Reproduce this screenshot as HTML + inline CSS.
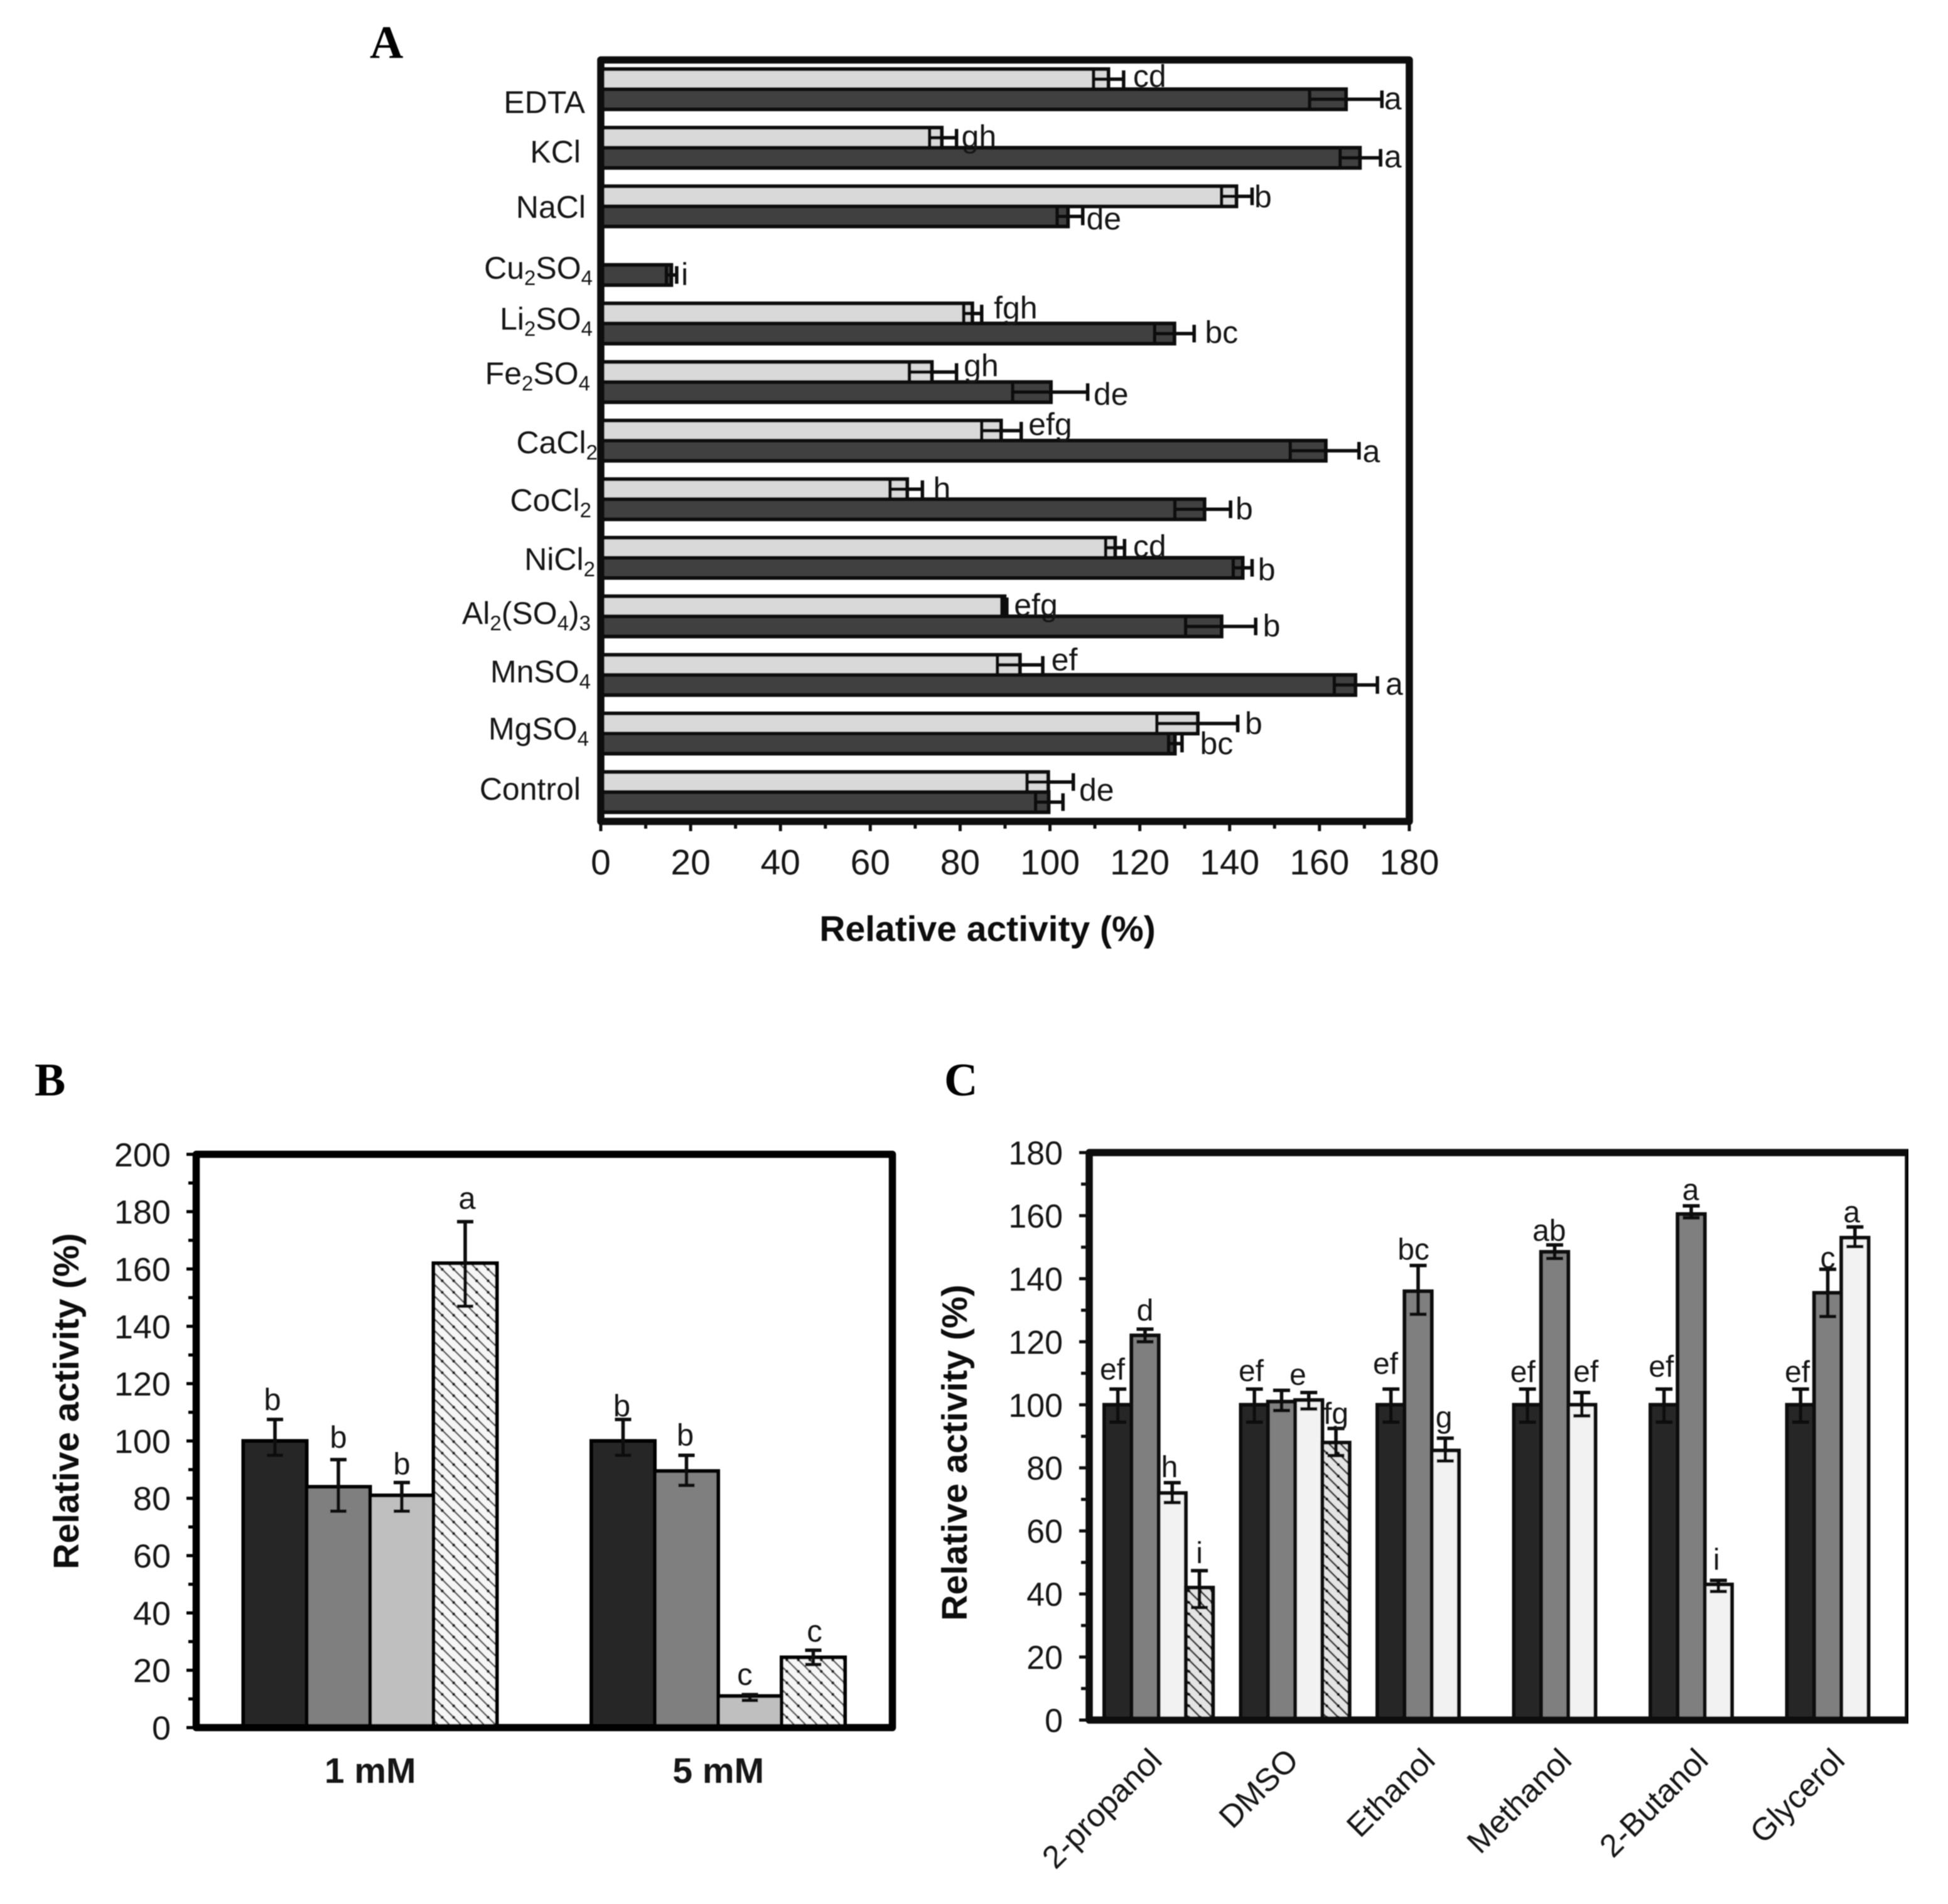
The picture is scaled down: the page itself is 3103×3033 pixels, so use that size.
<!DOCTYPE html>
<html lang="en">
<head>
<meta charset="utf-8">
<title>Relative activity charts</title>
<style>
html,body{margin:0;padding:0;background:#fff;}
svg{display:block;}
text{font-family:"Liberation Sans",Arial,sans-serif;fill:#141414;}
.panel{font-family:"Liberation Serif","Times New Roman",serif;font-weight:bold;font-size:74px;fill:#000;}
.title{font-weight:bold;font-size:57px;fill:#0d0d0d;}
.cat{font-size:50px;}
.sub{font-size:33px;}
</style>
</head>
<body>
<svg id="figure" xmlns="http://www.w3.org/2000/svg" width="3103" height="3033" viewBox="0 0 3103 3033">
  <defs>
    <filter id="soft" x="0" y="0" width="100%" height="100%"><feGaussianBlur stdDeviation="0.9"/></filter>
    <pattern id="hatch-b" patternUnits="userSpaceOnUse" width="18.3" height="18.3">
      <rect width="18.3" height="18.3" fill="#f6f6f6"/>
      <path d="M-2,-2 L20.3,20.3 M-2,16.3 L2,20.3 M16.3,-2 L20.3,2" stroke="#5c5c5c" stroke-width="2.6"/>
      <circle cx="9" cy="9" r="2.4" fill="#222"/>
    </pattern>
    <pattern id="hatch-c" patternUnits="userSpaceOnUse" width="18.3" height="18.3">
      <rect width="18.3" height="18.3" fill="#e4e4e4"/>
      <path d="M-2,-2 L20.3,20.3 M-2,16.3 L2,20.3 M16.3,-2 L20.3,2" stroke="#3a3a3a" stroke-width="2.8"/>
      <circle cx="9" cy="9" r="2.4" fill="#111"/>
    </pattern>
  </defs>
  <rect width="3103" height="3033" fill="#fff"/>
  <g id="root" filter="url(#soft)">
    <text class="panel" x="589" y="92">A</text>
    <text class="panel" x="55" y="1745">B</text>
    <text class="panel" x="1504" y="1745">C</text>

    <g id="panel-a">
      <g id="a-marks"></g>
      <text class="cat" x="932" y="180" text-anchor="end">EDTA</text>
      <text class="cat" x="925" y="259" text-anchor="end">KCl</text>
      <text class="cat" x="933" y="347" text-anchor="end">NaCl</text>
      <text class="cat" x="944" y="444" text-anchor="end">Cu<tspan class="sub" dy="10">2</tspan><tspan dy="-10">SO</tspan><tspan class="sub" dy="10">4</tspan></text>
      <text class="cat" x="944" y="525" text-anchor="end">Li<tspan class="sub" dy="10">2</tspan><tspan dy="-10">SO</tspan><tspan class="sub" dy="10">4</tspan></text>
      <text class="cat" x="940" y="612" text-anchor="end">Fe<tspan class="sub" dy="10">2</tspan><tspan dy="-10">SO</tspan><tspan class="sub" dy="10">4</tspan></text>
      <text class="cat" x="952" y="722" text-anchor="end">CaCl<tspan class="sub" dy="10">2</tspan></text>
      <text class="cat" x="942" y="814" text-anchor="end">CoCl<tspan class="sub" dy="10">2</tspan></text>
      <text class="cat" x="948" y="908" text-anchor="end">NiCl<tspan class="sub" dy="10">2</tspan></text>
      <text class="cat" x="941" y="994" text-anchor="end">Al<tspan class="sub" dy="10">2</tspan><tspan dy="-10">(SO</tspan><tspan class="sub" dy="10">4</tspan><tspan dy="-10">)</tspan><tspan class="sub" dy="10">3</tspan></text>
      <text class="cat" x="941" y="1087" text-anchor="end">MnSO<tspan class="sub" dy="10">4</tspan></text>
      <text class="cat" x="938" y="1178" text-anchor="end">MgSO<tspan class="sub" dy="10">4</tspan></text>
      <text class="cat" x="925" y="1274" text-anchor="end">Control</text>
      <text class="title" x="1573" y="1499" text-anchor="middle">Relative activity (%)</text>
    </g>

    <g id="panel-b">
      <g id="b-marks"></g>
      <text class="title" transform="translate(125,2232) rotate(-90)" text-anchor="middle">Relative activity (%)</text>
    </g>

    <g id="panel-c">
      <g id="c-marks"></g>
      <text class="title" transform="translate(1540,2314) rotate(-90)" text-anchor="middle">Relative activity (%)</text>
    </g>
  </g>
</svg>
<script>
/* ---------- Chart A data (top to bottom) ---------- */
const aCategories = ['EDTA','KCl','NaCl','Cu2SO4','Li2SO4','Fe2SO4','CaCl2','CoCl2','NiCl2','Al2(SO4)3','MnSO4','MgSO4','Control'];
const aTicks = [0,20,40,60,80,100,120,140,160,180];
const aLightValues = [113,75.9,141.5,0,82.7,73.7,89.1,68.2,114.5,89.9,93.3,132.9,99.6];
const aLightLow = [109.7,73.2,138.2,0,80.8,68.7,84.8,64.4,112.4,89.3,88.3,123.8,94.9];
const aLightHigh = [116.4,79.2,145,0,84.8,79.2,93.6,71.6,116.6,90.4,98.4,141.8,105.2];
const aDarkValues = [165.9,169,104,15.7,127.7,100.2,161.4,134.4,142.9,138.2,168,127.8,99.7];
const aDarkLow = [157.8,164.6,101.6,14.6,123.3,91.7,153.5,127.8,140.8,130.2,163.3,126.4,96.8];
const aDarkHigh = [173.9,173.6,107.3,16.9,132.1,108.4,168.8,140.2,145,145.8,172.9,129.4,102.9];
const aLightLetters = ['cd','gh','b','','fgh','gh','efg','h','cd','efg','ef','b','de'];
const aDarkLetters = ['a','a','de','i','bc','de','a','b','b','b','a','bc',''];
const aLightLetterGap = [2.1,1.1,0.5,0,2.7,1.6,1.6,2.4,1.9,1.6,1.9,1.6,1.3];
const aDarkLetterGap = [0.5,0.8,0.8,1,2.4,1.3,0.8,1.1,1.3,1.6,1.8,4,0];
const aLightLetterDrop = [-0.15,-0.06,0.03,0,-0.28,-0.31,-0.31,-0.03,-0.06,-0.06,-0.25,0,0.4];
const aDarkLetterDrop = [-0.03,-0.06,0.12,-0.03,-0.06,0.1,0.03,-0.03,0.09,-0.03,-0.06,0,0];

/* ---------- Chart B data ---------- */
const bCategories = ['1 mM','5 mM'];
const bTicks = [0,20,40,60,80,100,120,140,160,180,200];
const bValues = [[100,84,81,162],[100,89.5,11,24.5]];
const bErrHigh = [[107.5,93.5,85.5,176.5],[107.5,95,11.5,27]];
const bErrLow = [[95,75.5,75.5,147],[95,84.5,9.5,22]];
const bLetters = [['b','b','b','a'],['b','b','c','c']];
const bLetterLift = [[6.8,7.7,6.4,8],[4.6,7,6.9,6.5]];
const bLetterShift = [[-0.04,0,0,0.03],[-0.02,-0.02,-0.08,0.02]];

/* ---------- Chart C data ---------- */
const cCategories = ['2-propanol','DMSO','Ethanol','Methanol','2-Butanol','Glycerol'];
const cTicks = [0,20,40,60,80,100,120,140,160,180];
const cValues = [[100,122,72,42],[100,101,101.5,88],[100,136,85.5],[100,148.5,100],[100,160.5,43],[100,135.5,153]];
const cErrHigh = [[105,124,75.3,47.4],[105,104.6,103.9,92.5],[105,144.2,89.4],[105,150.7,103.9],[105,163.1,44.3],[105,143,156.4]];
const cErrLow = [[94.5,120,69,35.7],[94.5,98.2,98.7,83.9],[94.5,128.7,82.2],[94.5,146.4,96.5],[94.5,159.3,40.8],[94.5,128,150.2]];
const cLetters = [['ef','d','h','i'],['ef','','e','fg'],['ef','bc','g'],['ef','ab','ef'],['ef','a','i'],['ef','c','a']];
const cLetterLift = [[6.2,5.9,4.9,5.6],[5.7,0,5.6,4.7],[8,5,6.6],[5.4,4.5,6.6],[7.1,5.1,6.6],[5.4,3.6,4.7]];
const cLetterShift = [[-0.2,0,-0.1,0],[-0.12,0,-0.4,0],[-0.2,-0.17,-0.05],[-0.17,-0.2,0.15],[-0.1,-0.02,-0.07],[-0.12,0,-0.12]];

/* ---------- Helpers ---------- */
const NS = 'http://www.w3.org/2000/svg';
function make(tag, attrs, parent, content) {
  const node = document.createElementNS(NS, tag);
  for (const key in attrs) node.setAttribute(key, attrs[key]);
  if (content !== undefined) node.textContent = content;
  parent.appendChild(node);
  return node;
}

/* ---------- Axis functions ---------- */
const aX = v => 957 + v * 7.155;
const aRowTop = i => 95.5 + i * (1213 / 13) + 14.6;
const aBarH = 32;
const bY = v => 2752 - v * 4.566;
const bGroupX = i => 312.5 + i * 554.5 + 75;
const bBarW = 101;
const cY = v => 2740 - v * 5.022;
const cGroupX = i => 1735 + i * 217.5 + 24;
const cBarW = 43.3;

function whiskerH(parent, low, high, cy, capH, name) {
  const g = make('path', {d:`M${low},${cy}H${high}M${low},${cy-capH/2}V${cy+capH/2}M${high},${cy-capH/2}V${cy+capH/2}`, fill:'none', stroke:'#0a0a0a', 'stroke-width':5.5}, parent);
  
  
}
function whiskerV(parent, low, high, cx, capW, name) {
  const g = make('path', {d:`M${cx},${low}V${high}M${cx-capW/2},${low}H${cx+capW/2}M${cx-capW/2},${high}H${cx+capW/2}`, fill:'none', stroke:'#0a0a0a', 'stroke-width':5.5}, parent);
  
  
}
function frame(parent, x0, y0, x1, y1, color, name) {
  const f = make('rect', {x:x0, y:y0, width:x1-x0, height:y1-y0, fill:'none', stroke:color, 'stroke-width':11.5, 'stroke-linejoin':'round'}, parent);
  
  
}

/* ---------- Chart A ---------- */
(function drawA() {
  const g = document.getElementById('a-marks');
  aCategories.forEach((cat, i) => {
    const top = aRowTop(i);
    if (aLightValues[i] > 0) {
      const r = make('rect', {x:aX(0), y:top, width:aX(aLightValues[i])-aX(0), height:aBarH, fill:'#d9d9d9', stroke:'#111', 'stroke-width':6}, g);
      
      
    }
    const d = make('rect', {x:aX(0), y:top+aBarH, width:aX(aDarkValues[i])-aX(0), height:aBarH, fill:'#404040', stroke:'#111', 'stroke-width':6}, g);
    
    
    if (aLightValues[i] > 0) {
      whiskerH(g, aX(aLightLow[i]), aX(aLightHigh[i]), top+aBarH/2, 28, 'error-bar-light');
    }
    whiskerH(g, aX(aDarkLow[i]), aX(aDarkHigh[i]), top+aBarH*1.5, 28, 'error-bar-dark');
    if (aLightLetters[i]) {
      const t = make('text', {x:aX(aLightHigh[i]+aLightLetterGap[i]), y:top+aBarH/2+aLightLetterDrop[i]*aBarH+17, 'font-size':50}, g, aLightLetters[i]);
      
      
    }
    if (aDarkLetters[i]) {
      const t = make('text', {x:aX(aDarkHigh[i]+aDarkLetterGap[i]), y:top+aBarH*1.5+aDarkLetterDrop[i]*aBarH+17, 'font-size':50}, g, aDarkLetters[i]);
      
      
    }
  });
  frame(g, aX(0), 95.5, aX(180), 1308.5, '#0d0d0d', 'plot-frame-a');
  for (let v = 0; v <= 180; v += 10) {
    const major = v % 20 === 0;
    const tick = make('line', {x1:aX(v), x2:aX(v), y1:1308, y2:major?1324:1320, stroke:'#0d0d0d', 'stroke-width':5}, g);
    
    
  }
  aTicks.forEach(v => {
    const t = make('text', {x:aX(v), y:1393, 'font-size':57, 'text-anchor':'middle'}, g, String(v));
    
    
  });
})();

/* ---------- Chart B ---------- */
(function drawB() {
  const g = document.getElementById('b-marks');
  const fills = ['#262626','#7f7f7f','#bfbfbf','url(#hatch-b)'];
  bValues.forEach((vals, gi) => {
    vals.forEach((v, si) => {
      const x = bGroupX(gi) + si * bBarW;
      const r = make('rect', {x:x, y:bY(v), width:bBarW, height:bY(0)-bY(v), fill:fills[si], stroke:'#050505', 'stroke-width':6}, g);
      
      
    });
    vals.forEach((v, si) => {
      const cx = bGroupX(gi) + (si + 0.5) * bBarW;
      whiskerV(g, bY(bErrLow[gi][si]), bY(bErrHigh[gi][si]), cx, 26, 'error-bar');
      const t = make('text', {x:cx + bLetterShift[gi][si]*bBarW, y:bY(bErrHigh[gi][si]+bLetterLift[gi][si])+16, 'font-size':49, 'text-anchor':'middle'}, g, bLetters[gi][si]);
      
      
    });
  });
  frame(g, 312.5, bY(200), 1421.5, bY(0), '#000', 'plot-frame-b');
  for (let v = 0; v <= 200; v += 10) {
    const major = v % 20 === 0;
    const tick = make('line', {x1:major?297:300, x2:312, y1:bY(v), y2:bY(v), stroke:'#000', 'stroke-width':5}, g);
    
    
  }
  bTicks.forEach(v => {
    const t = make('text', {transform:`translate(272,${bY(v)+19}) scale(1.02,1)`, 'font-size':53, 'text-anchor':'end'}, g, String(v));
    
    
  });
  bCategories.forEach((c, i) => {
    const t = make('text', {x:312.5 + (i+0.5)*554.5, y:2840, 'font-size':57, 'font-weight':'bold', 'text-anchor':'middle'}, g, c);
    
    
  });
})();

/* ---------- Chart C ---------- */
(function drawC() {
  const g = document.getElementById('c-marks');
  const fills = ['#262626','#7f7f7f','#f2f2f2','url(#hatch-c)'];
  cValues.forEach((vals, gi) => {
    vals.forEach((v, si) => {
      const x = cGroupX(gi) + si * cBarW;
      const r = make('rect', {x:x, y:cY(v), width:cBarW, height:cY(0)-cY(v), fill:fills[si], stroke:'#0a0a0a', 'stroke-width':6}, g);
      
      
    });
    vals.forEach((v, si) => {
      const cx = cGroupX(gi) + (si + 0.5) * cBarW;
      whiskerV(g, cY(cErrLow[gi][si]), cY(cErrHigh[gi][si]), cx, 27, 'error-bar');
      if (cLetters[gi][si]) {
        const t = make('text', {x:cx + cLetterShift[gi][si]*cBarW, y:cY(cErrHigh[gi][si]+cLetterLift[gi][si])+16, 'font-size':48, 'text-anchor':'middle'}, g, cLetters[gi][si]);
        
        
      }
    });
  });
  frame(g, 1735, cY(180), 3040, cY(0), '#0d0d0d', 'plot-frame-c');
  for (let v = 0; v <= 180; v += 10) {
    const major = v % 20 === 0;
    const tick = make('line', {x1:major?1719:1722, x2:1735, y1:cY(v), y2:cY(v), stroke:'#0d0d0d', 'stroke-width':5}, g);
    
    
  }
  cTicks.forEach(v => {
    const t = make('text', {transform:`translate(1693,${cY(v)+19}) scale(0.98,1)`, 'font-size':53, 'text-anchor':'end'}, g, String(v));
    
    
  });
  cCategories.forEach((c, i) => {
    const t = make('text', {transform:`translate(${1735 + (i+0.5)*217.5 + 10},2807) rotate(-45)`, 'font-size':51, 'text-anchor':'end'}, g, c);
    
    
  });
})();
</script>
</body>
</html>
